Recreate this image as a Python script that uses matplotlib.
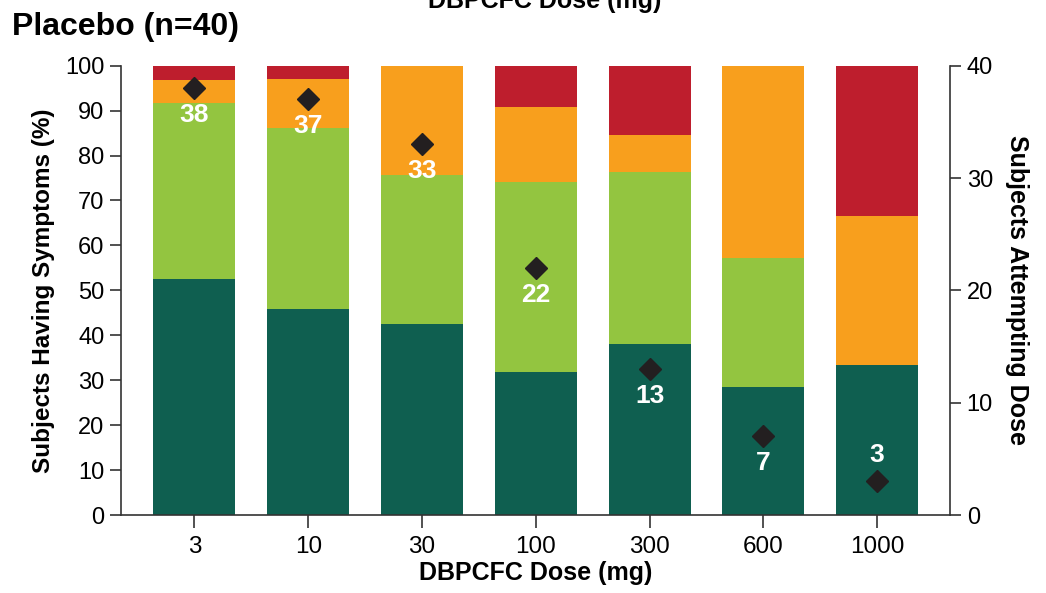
"""
Placebo arm: stacked symptom severity by DBPCFC dose, with subjects attempting each dose
"""
import matplotlib
matplotlib.use('Agg')
import matplotlib.pyplot as plt
import numpy as np

plt.rcParams['font.family'] = ['Liberation Sans', 'DejaVu Sans']

# ---------------------------------------------------------------------------------------------------------------------
# Data
# ---------------------------------------------------------------------------------------------------------------------
doses = ['3', '10', '30', '100', '300', '600', '1000']

# percentage of subjects in each symptom category (bottom -> top)
pct_none = [52.6, 45.9, 42.4, 31.8, 38.0, 28.5, 33.3]
pct_mild = [39.0, 40.3, 33.2, 42.3, 38.3, 28.6, 0.0]
pct_moderate = [5.3, 10.8, 24.4, 16.7, 8.2, 42.9, 33.3]
pct_severe = [3.1, 3.0, 0.0, 9.2, 15.5, 0.0, 33.4]

# subjects attempting each dose (right axis)
n_attempting = [38, 37, 33, 22, 13, 7, 3]

colors = ['#0f5f50', '#93c540', '#f89f1d', '#be1e2d']

# ---------------------------------------------------------------------------------------------------------------------
# Figure
# ---------------------------------------------------------------------------------------------------------------------
fig = plt.figure(figsize=(10.46, 5.93), dpi=100)
ax = fig.add_axes([121 / 1046, 1 - 515 / 593, (950 - 121) / 1046, (515 - 65.7) / 593])

x = np.arange(len(doses))
bottom = np.zeros(len(doses))
for vals, c in zip([pct_none, pct_mild, pct_moderate, pct_severe], colors):
    ax.bar(x, vals, width=0.72, bottom=bottom, color=c, linewidth=0)
    bottom += np.array(vals)

ax.set_xlim(-0.645, 6.64)
ax.set_ylim(0, 100)
ax.set_yticks(range(0, 101, 10))
ax.set_xticks(x)
ax.set_xticklabels(doses, fontsize=17.5)
ax.tick_params(axis='y', labelsize=17, length=8, width=1.2, color='#333333', pad=4)
ax.tick_params(axis='x', length=9, width=1.2, color='#333333', pad=6)
ax.spines['top'].set_visible(False)
ax.spines['right'].set_visible(False)
for s in ['left', 'bottom']:
    ax.spines[s].set_linewidth(1.2)
    ax.spines[s].set_color('#333333')

ax.set_ylabel('Subjects Having Symptoms (%)', fontsize=17.5, fontweight='bold', labelpad=7)
ax.set_xlabel('DBPCFC Dose (mg)', fontsize=18, fontweight='bold', labelpad=2)

# right axis: subjects attempting dose
ax2 = ax.twinx()
ax2.set_ylim(0, 40)
ax2.set_yticks(range(0, 41, 10))
ax2.plot(x, n_attempting, linestyle='none', marker='D', markersize=11, color='#231f20')
ax2.tick_params(axis='y', labelsize=17, length=8, width=1.2, color='#333333', pad=4)
for s in ['top', 'left', 'bottom']:
    ax2.spines[s].set_visible(False)
ax2.spines['right'].set_linewidth(1.2)
ax2.spines['right'].set_color('#333333')
ax2.set_ylabel('Subjects Attempting Dose', fontsize=18, fontweight='bold', rotation=270, labelpad=26)

for xi, n in zip(x, n_attempting):
    # number sits under the diamond, except for the last, smallest dose group
    y_txt = n - 2.4 if n > 5 else n + 2.3
    ax2.text(xi, y_txt, str(n), ha='center', va='center', color='white',
             fontsize=19, fontweight='bold')

fig.text(12 / 1046, 1 - 27 / 593, 'Placebo (n=40)', fontsize=23, fontweight='bold', va='center', ha='left')
# clipped header from the panel above
fig.text(545 / 1046, 1 - 8 / 593, 'DBPCFC Dose (mg)', fontsize=18, fontweight='bold', va='baseline', ha='center')

fig.savefig('out.png', dpi=100)
